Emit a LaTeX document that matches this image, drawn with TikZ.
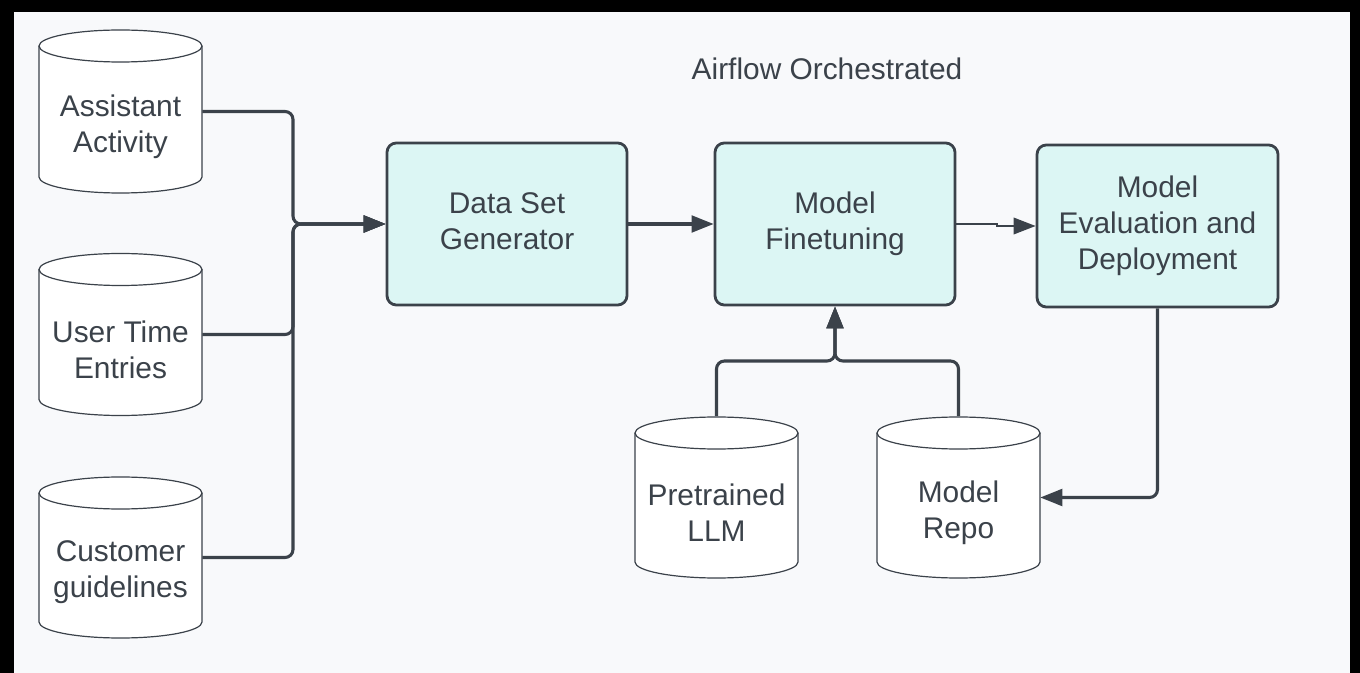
\documentclass[tikz,border=0pt]{standalone}
\usepackage{fontspec}
\setmainfont{Liberation Sans}
\usetikzlibrary{arrows.meta,calc}
\definecolor{ink}{RGB}{59,66,74}
\definecolor{bgc}{RGB}{248,249,251}
\definecolor{boxfill}{RGB}{220,246,244}
\tikzset{
  lbl/.style={font=\fontsize{22.4pt}{27pt}\selectfont, text=ink, align=center, inner sep=0pt},
  procbox/.style={lbl, draw=ink, line width=2.1pt, fill=boxfill, rounded corners=7pt,
    minimum width=180pt, minimum height=121.5pt},
  cylline/.style={draw=ink, line width=0.9pt},
  cylbox/.style={rectangle, inner sep=0pt, minimum width=122.25pt, minimum height=121.5pt},
  conn/.style={draw=ink, line width=2.3pt, rounded corners=6pt},
  thinconn/.style={draw=ink, line width=1.1pt},
  tip/.style={-{Triangle[length=16.5pt,width=12.5pt]}},
}
\newcommand\dbcyl[5]{%
  \path[cylline, fill=white] ({#2-81.5},{#3+16}) -- ({#2-81.5},{#4-16})
    .. controls ({#2-81.5},{#4-7.16}) and ({#2-45},{#4}) .. ({#2},{#4})
    .. controls ({#2+45},{#4}) and ({#2+81.5},{#4-7.16}) .. ({#2+81.5},{#4-16})
    -- ({#2+81.5},{#3+16});
  \draw[cylline, fill=white] (#2,{#3+16}) ellipse[x radius=81.5, y radius=16];
  \node[cylbox] (#1) at (#2,{(#3+#4)/2}) {};
  \node[lbl] (#1-t) at (#2,{(#3+30+#4)/2}) {#5};
}
\begin{document}
\begin{tikzpicture}[x=0.75pt, y=-0.75pt]
  \fill[black] (0,0) rectangle (1360,673);
  \fill[bgc] (14,12) rectangle (1350,673);
  \useasboundingbox (0,0) rectangle (1360,673);

  \node[lbl] (title) at (827,69) {Airflow Orchestrated};

  \dbcyl{aa}{120.5}{30}{193}{Assistant\\Activity}
  \dbcyl{ut}{120.5}{253.5}{415.5}{User Time\\Entries}
  \dbcyl{cg}{120.5}{477}{638}{Customer\\guidelines}
  \dbcyl{pl}{716.5}{417}{578}{Pretrained\\LLM}
  \dbcyl{mr}{958.5}{417}{578}{Model\\Repo}

  \node[procbox] (dsg) at (507,224) {Data Set\\Generator\vphantom{g}};
  \node[procbox] (ft) at (835,224) {Model\\Finetuning};
  \node[procbox, minimum width=180.75pt] (ev) at (1157.5,226) {Model\\Evaluation and\\Deployment};

  \coordinate (jM) at (293,224);
  \coordinate (jF) at (835,361);
  \coordinate (jT1) at (997,224);
  \coordinate (jT2) at (997,226);

  \draw[conn, tip] (aa.east) -| (jM) -- (dsg.west);
  \draw[conn, tip] (ut.east) -| (jM) -- (dsg.west);
  \draw[conn, tip] (cg.east) -| (jM) -- (dsg.west);
  \draw[conn, tip] (dsg.east) -- (ft.west);
  \draw[thinconn, tip] (ft.east) -- (jT1) -- (jT2) -- (ev.west);
  \draw[conn, tip] (pl.north) |- (jF) -- (ft.south);
  \draw[conn, tip] (mr.north) |- (jF) -- (ft.south);
  \draw[conn, tip] (ev.south) |- (mr.east);
\end{tikzpicture}
\end{document}
